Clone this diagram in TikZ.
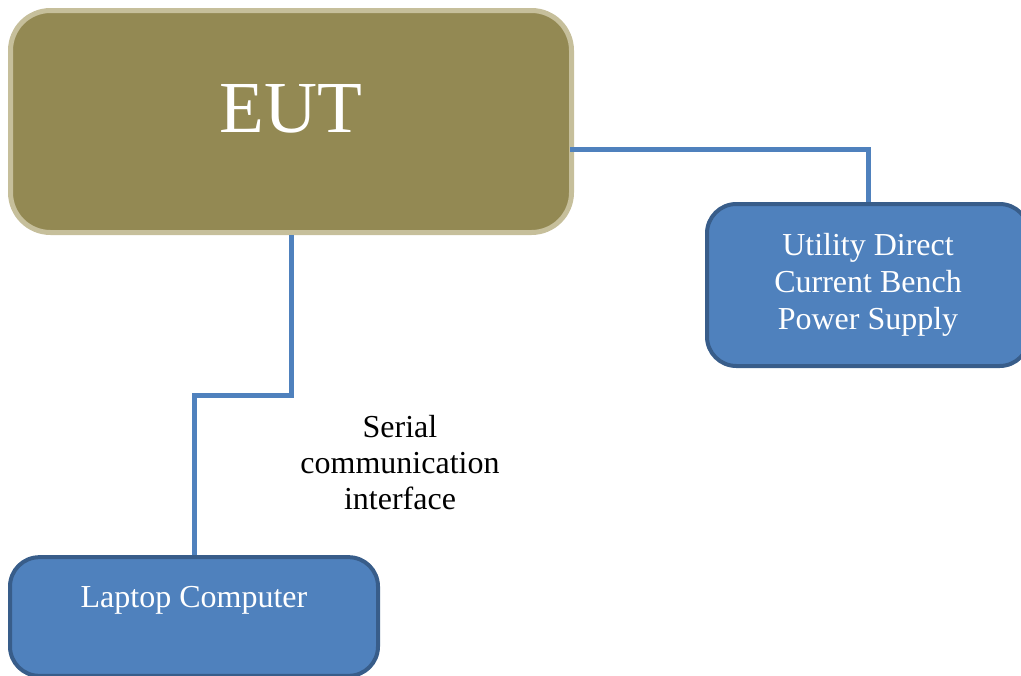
\documentclass[tikz,border=0pt]{standalone}
\usepackage{fontspec}
\setmainfont{Liberation Serif}
\usetikzlibrary{positioning, calc}
\definecolor{eutfill}{RGB}{147, 137, 83}
\definecolor{eutedge}{RGB}{198, 191, 155}
\definecolor{boxfill}{RGB}{79, 129, 189}
\definecolor{boxedge}{RGB}{56, 93, 138}

\begin{document}
\begin{tikzpicture}[
    x=0.75pt, y=-0.75pt,
    eutbox/.style={rectangle, rounded corners=30pt, draw=eutedge, fill=eutfill, line width=3.75pt, text=white, font=\fontsize{55}{60}\selectfont},
    devbox/.style={rectangle, rounded corners=22pt, draw=boxedge, fill=boxfill, line width=3pt, text=white, align=center, font=\fontsize{24}{27.5}\selectfont},
    wire/.style={draw=boxfill, line width=3.75pt},
    note/.style={align=center, font=\fontsize{24}{27}\selectfont}
]
\useasboundingbox (0,0) rectangle (1021,675);

% EUT
\node[eutbox, minimum width=420.75pt, minimum height=166.5pt, text depth=20pt] (eut) at (291, 121.5) {EUT};

% Power supply
\node[devbox, minimum width=241.5pt, minimum height=121.5pt] (psu) at (868, 285) {Utility Direct\\Current Bench\\Power Supply};

% Laptop
\node[devbox, minimum width=276pt, minimum height=89pt, text depth=29pt] (laptop) at (194, 616.5) {Laptop Computer};

% Connections
\draw[wire] ([xshift=-3pt, yshift=-21pt]eut.east) -| (psu.north);
\draw[wire] (eut.south) |- ($(eut.south)!0.5!(laptop.north)$) -| (laptop.north);

% Label
\node[note] (serial) at (400, 463) {Serial\\communication\\interface};

\end{tikzpicture}
\end{document}
